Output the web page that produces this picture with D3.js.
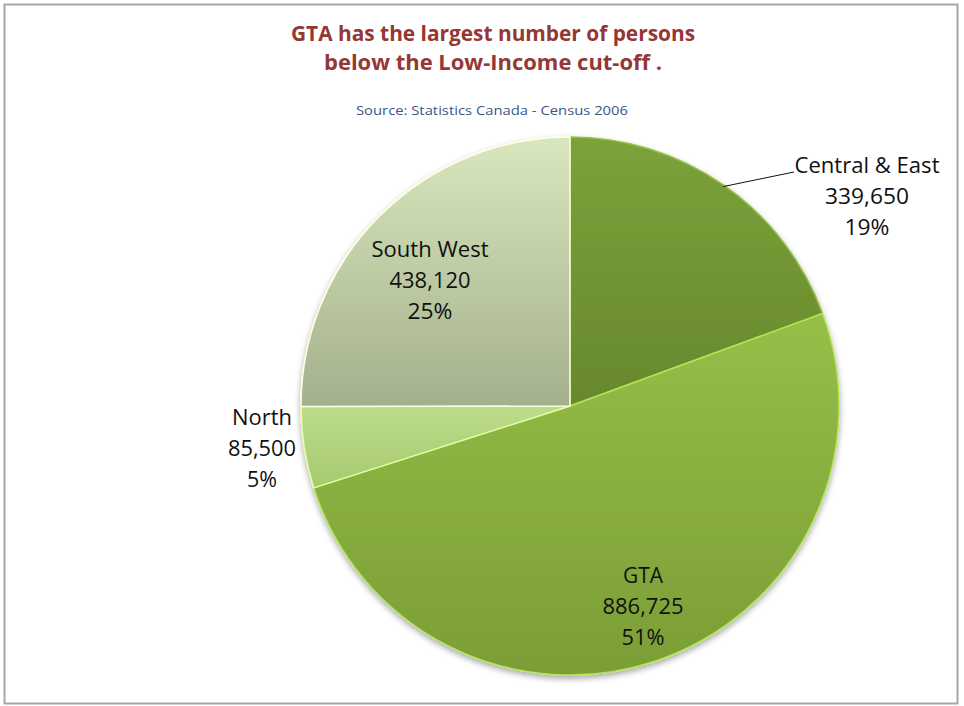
<!DOCTYPE html>
<html>
<head>
<meta charset="utf-8">
<script src="https://cdn.jsdelivr.net/npm/d3@7"></script>
<style>
  html, body { margin: 0; padding: 0; background: #fff; }
  svg { display: block; }
</style>
</head>
<body>
<svg id="chart" width="964" height="706"></svg>
<script>
// Persons below the Low-Income cut-off by region, Census 2006
const regions = ["Central & East", "GTA", "North", "South West"];
const persons = [339650, 886725, 85500, 438120];
const percentLabels = ["19%", "51%", "5%", "25%"];

// top / bottom gradient colours for each slice
const topColors = ["#7ca23b", "#96bf48", "#bcdc8a", "#d8e7bd"];
const bottomColors = ["#67882d", "#7b9d36", "#a7c96f", "#a4b08d"];

const titleLines = ["GTA has the largest number of persons", "below the Low-Income cut-off ."];
const sourceText = "Source: Statistics Canada - Census 2006";

const svg = d3.select("#chart");
const cx = 570, cy = 406, R = 269;

// chart frame
svg.append("rect")
  .attr("x", 4.5).attr("y", 4.5).attr("width", 953).attr("height", 699)
  .attr("fill", "#fff").attr("stroke", "#a6a6a6").attr("stroke-width", 2);

const defs = svg.append("defs");
regions.forEach((r, i) => {
  const g = defs.append("linearGradient")
    .attr("id", "grad" + i).attr("x1", 0).attr("y1", 0).attr("x2", 0).attr("y2", 1);
  g.append("stop").attr("offset", "0%").attr("stop-color", topColors[i]);
  g.append("stop").attr("offset", "100%").attr("stop-color", bottomColors[i]);
});
const shadow = defs.append("filter").attr("id", "shadow")
  .attr("x", "-10%").attr("y", "-10%").attr("width", "120%").attr("height", "120%");
shadow.append("feGaussianBlur").attr("in", "SourceAlpha").attr("stdDeviation", 3);
shadow.append("feOffset").attr("dx", 0).attr("dy", 3).attr("result", "b");
shadow.append("feComponentTransfer").append("feFuncA").attr("type", "linear").attr("slope", 0.35);
const merge = shadow.append("feMerge");
merge.append("feMergeNode");
merge.append("feMergeNode").attr("in", "SourceGraphic");

// titles
const font = "'Open Sans', 'Liberation Sans', sans-serif";
svg.selectAll("text.title").data(titleLines).join("text")
  .attr("class", "title")
  .attr("x", 493).attr("y", (d, i) => 41 + i * 29)
  .attr("text-anchor", "middle")
  .attr("font-family", font).attr("font-weight", "bold")
  .attr("font-size", 21).attr("fill", "#953735")
  .attr("textLength", (d, i) => i === 0 ? 404 : 338).attr("lengthAdjust", "spacingAndGlyphs")
  .text(d => d);

svg.append("text")
  .attr("x", 492).attr("y", 115)
  .attr("text-anchor", "middle")
  .attr("font-family", font).attr("font-size", 13).attr("fill", "#3b5687")
  .attr("textLength", 272).attr("lengthAdjust", "spacingAndGlyphs")
  .text(sourceText);

// pie
const data = regions.map((r, i) => ({ name: r, value: persons[i], pct: percentLabels[i], i }));
const pie = d3.pie().value(d => d.value).sort(null);
const arcs = pie(data);
const arc = d3.arc().innerRadius(0).outerRadius(R);

const pieG = svg.append("g").attr("transform", `translate(${cx},${cy})`);
const slices = pieG.append("g").attr("filter", "url(#shadow)");
slices.selectAll("path").data(arcs).join("path")
  .attr("d", arc)
  .attr("fill", d => `url(#grad${d.data.i})`)
  .attr("stroke", d => d3.color(topColors[d.data.i]).brighter(0.5))
  .attr("stroke-width", 1.5)
  .attr("stroke-linejoin", "round");

// data labels: name, value, percent (anchor = centre x, first baseline)
const labelPos = {
  "Central & East": [867, 173],
  "GTA": [643, 583],
  "North": [262, 425],
  "South West": [430, 257]
};
// rendered line widths (name, value, percent)
const labelWidths = {
  "Central & East": [145, 84, 45],
  "GTA": [40, 81, 43],
  "North": [60, 68, 30],
  "South West": [117, 81, 45]
};
const fmt = d3.format(",");
arcs.forEach(a => {
  const [lx, ly] = labelPos[a.data.name];
  const widths = labelWidths[a.data.name];
  const t = svg.append("text")
    .attr("text-anchor", "middle")
    .attr("font-family", font).attr("font-size", 21).attr("fill", "#111");
  [a.data.name, fmt(a.data.value), a.data.pct].forEach((s, k) => {
    t.append("tspan").attr("x", lx).attr("y", ly + k * 31)
      .attr("textLength", widths[k]).attr("lengthAdjust", "spacingAndGlyphs")
      .text(s);
  });
});

// leader line for the outside label
const ce = arcs[0];
const mid = (ce.startAngle + ce.endAngle) / 2;
const edge = [cx + Math.sin(mid) * R * 0.995, cy - Math.cos(mid) * R * 0.995];
svg.append("path")
  .attr("d", d3.line()([[edge[0], edge[1]], [794, 172]]))
  .attr("stroke", "#111").attr("stroke-width", 1).attr("fill", "none");
</script>
</body>
</html>
